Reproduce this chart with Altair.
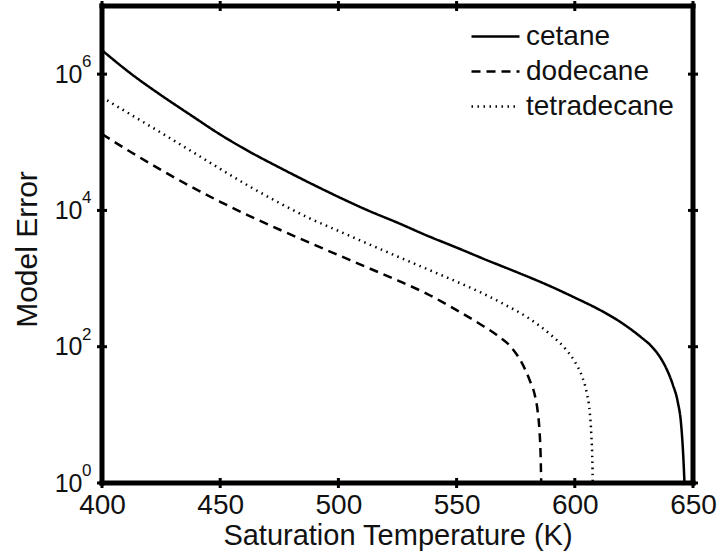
import altair as alt
import pandas as pd

# ---- data ----
series_names = ["cetane", "dodecane", "tetradecane"]

t_cetane = [400, 412.5, 425, 437.5, 450, 462.5, 475, 487.5, 500, 512.5, 525, 537.5, 550, 562.5,
            575, 587.5, 600, 610, 619, 628, 632, 636, 639, 641.5, 643.5, 645, 645.8, 646.4]
e_cetane = [2.24e6, 1.0e6, 4.9e5, 2.51e5, 1.30e5, 7.24e4, 4.27e4, 2.57e4, 1.58e4, 1.0e4, 6.61e3,
            4.27e3, 2.85e3, 1.88e3, 1.26e3, 832, 525, 355, 234, 138, 105, 70.8, 45.7, 27.5, 15.8,
            7.08, 2.82, 1.0]

t_dodecane = [400, 412.5, 425, 437.5, 450, 462.5, 475, 487.5, 500, 512.5, 525, 537.5, 550, 560,
              567, 573.4, 578.1, 581, 583, 584.3, 585.1, 585.5, 585.8]
e_dodecane = [1.32e5, 7.08e4, 3.93e4, 2.25e4, 1.34e4, 8.26e3, 5.25e3, 3.39e3, 2.21e3, 1.44e3, 942,
              597, 345, 214, 148, 95.5, 53.7, 31.6, 20.0, 11.2, 5.62, 2.82, 1.0]

t_tetradecane = [400, 412.5, 425, 437.5, 450, 462.5, 475, 487.5, 500, 512.5, 525, 537.5, 550, 560,
                 570, 580, 590, 596, 600, 603, 605, 606.3, 607, 607.4, 607.6]
e_tetradecane = [4.57e5, 2.51e5, 1.38e5, 7.5e4, 4.07e4, 2.24e4, 1.29e4, 7.76e3, 5.01e3, 3.24e3, 2.11e3,
                 1.38e3, 902, 631, 422, 269, 148, 93.3, 60.3, 37.2, 21.4, 11.2, 5.01, 2.24, 1.0]

x_tick_values = [400, 450, 500, 550, 600, 650]
y_tick_values = [1, 100, 10000, 1000000]
y_tick_exponents = ["0", "2", "4", "6"]

# ---- tables ----
rows = []
for name, ts, es in [("cetane", t_cetane, e_cetane),
                     ("dodecane", t_dodecane, e_dodecane),
                     ("tetradecane", t_tetradecane, e_tetradecane)]:
    for i, (t, e) in enumerate(zip(ts, es)):
        rows.append({"T": t, "E": e, "series": name, "order": i})
df = pd.DataFrame(rows)
xt = pd.DataFrame({"T": x_tick_values})
yt = pd.DataFrame({"E": y_tick_values, "exp": y_tick_exponents})
one = pd.DataFrame({"k": [0]})

FONT = "Liberation Sans"
W, H = 591, 477

xscale = alt.Scale(domain=[400, 650], nice=False, zero=False)
yscale = alt.Scale(type="log", domain=[1, 1e7], nice=False)

lines = alt.Chart(df).mark_line(color="black", clip=True, interpolate="monotone").encode(
    x=alt.X("T:Q", scale=xscale,
            axis=alt.Axis(values=x_tick_values, title="Saturation Temperature (K)",
                          ticks=False, tickSize=0, domain=False, grid=False,
                          labelFontSize=28, labelPadding=8, labelFont=FONT, labelColor="#111",
                          titleFontSize=29, titleFont=FONT, titleFontWeight="normal", titleColor="#111",
                          titleY=52, titleBaseline="middle", titleX=W / 2, labelFlush=False)),
    y=alt.Y("E:Q", scale=yscale,
            axis=alt.Axis(values=y_tick_values, labelExpr="'10'", title="Model Error",
                          ticks=False, tickSize=0, domain=False, grid=False,
                          labelFontSize=25, labelPadding=20, labelFont=FONT, labelColor="#111",
                          titleFontSize=30, titleFont=FONT, titleFontWeight="normal", titleColor="#111",
                          titleX=-75, titleY=243, titleAngle=-90, titleBaseline="middle",
                          titleAlign="center", labelFlush=False)),
    strokeDash=alt.StrokeDash("series:N",
        scale=alt.Scale(domain=series_names, range=[[1, 0], [9, 6], [1.5, 4.5]]),
        legend=alt.Legend(title=None, orient="none", legendX=368, legendY=13,
                          symbolType="stroke", symbolSize=2304, symbolStrokeWidth=2.2,
                          symbolStrokeColor="black", labelFontSize=28, labelFont=FONT,
                          labelColor="#111", labelOffset=5, rowPadding=0, clipHeight=35,
                          padding=0)),
    strokeWidth=alt.StrokeWidth("series:N",
        scale=alt.Scale(domain=series_names, range=[2.5, 2.5, 1.6]), legend=None),
    order="order:Q",
)

tick_style = dict(color="black", thickness=3, size=10, opacity=1)
bottom_ticks = alt.Chart(xt).mark_tick(**tick_style).encode(x="T:Q", y=alt.value(H))
top_ticks = alt.Chart(xt).mark_tick(**tick_style).encode(x="T:Q", y=alt.value(0))
left_ticks = alt.Chart(yt).mark_tick(**tick_style).encode(y="E:Q", x=alt.value(0))
right_ticks = alt.Chart(yt).mark_tick(**tick_style).encode(y="E:Q", x=alt.value(W))

edge = dict(color="black", strokeWidth=5, strokeCap="square")
frame_top = alt.Chart(one).mark_rule(**edge).encode(x=alt.value(0), x2=alt.value(W), y=alt.value(0))
frame_bottom = alt.Chart(one).mark_rule(**edge).encode(x=alt.value(0), x2=alt.value(W), y=alt.value(H))
frame_left = alt.Chart(one).mark_rule(**edge).encode(y=alt.value(0), y2=alt.value(H), x=alt.value(0))
frame_right = alt.Chart(one).mark_rule(**edge).encode(y=alt.value(0), y2=alt.value(H), x=alt.value(W))

exps = alt.Chart(yt).mark_text(align="left", baseline="middle", fontSize=17, font=FONT,
                               color="#111", dy=-12).encode(
    y="E:Q", x=alt.value(-20), text="exp:N")

chart = alt.layer(lines, bottom_ticks, top_ticks, left_ticks, right_ticks,
                  frame_top, frame_bottom, frame_left, frame_right, exps).properties(
    width=W, height=H,
    padding={"left": 102, "top": 6, "right": 30, "bottom": 76},
    autosize=alt.AutoSizeParams(type="none"),
    background="white",
).configure_view(stroke=None)

chart.save("out.html", embed_options={"renderer": "svg", "actions": False})
